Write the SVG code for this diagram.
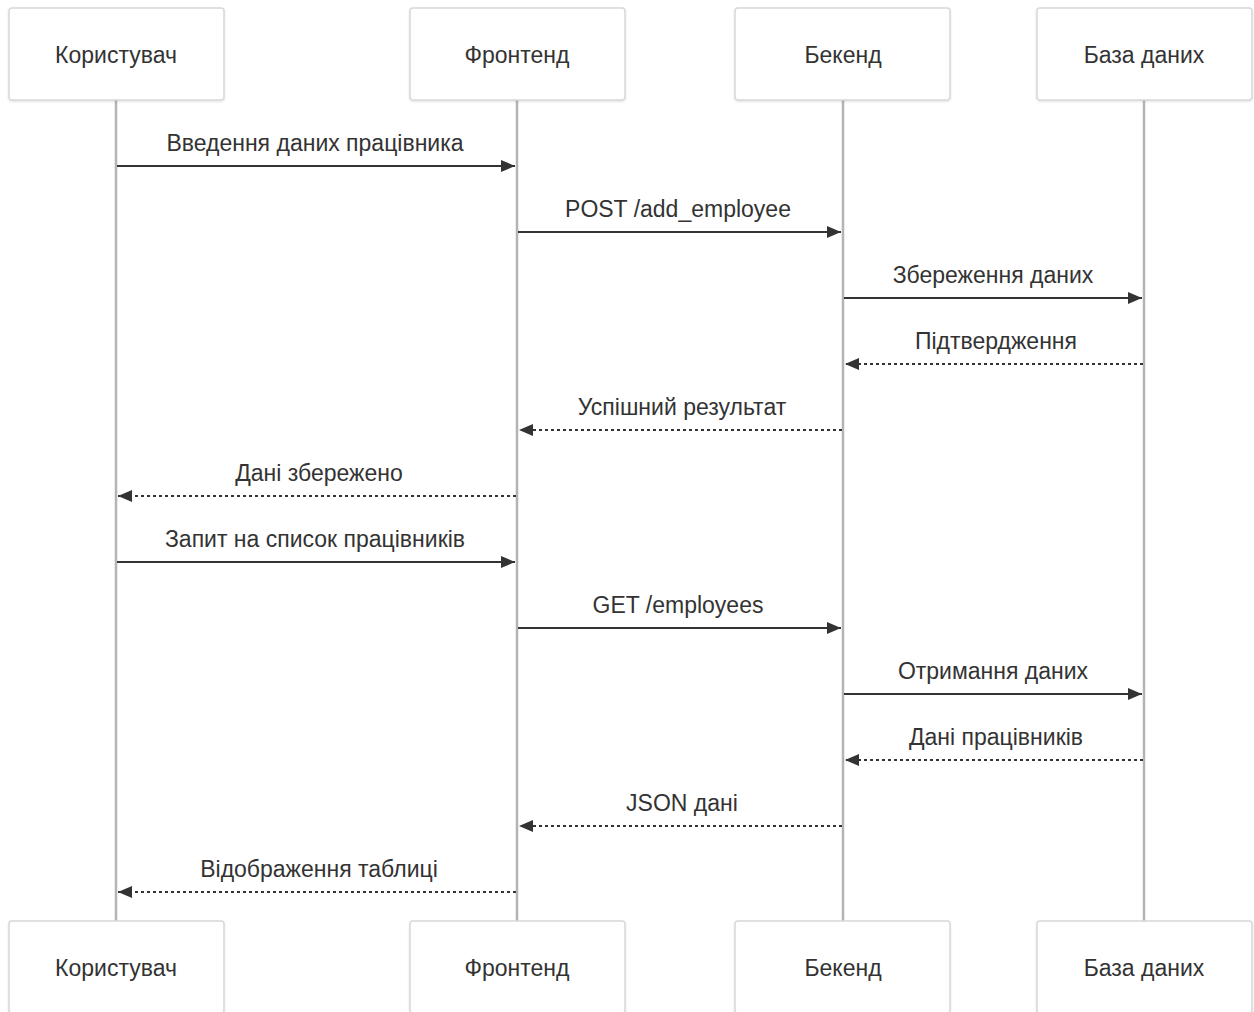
<svg xmlns="http://www.w3.org/2000/svg" width="1254" height="1012" viewBox="0 0 1254 1012">
<defs>
<style>
.actor{fill:#fff;stroke:#d8d8d8;stroke-width:1.5}
.atext{font-family:"Liberation Sans",Arial,sans-serif;font-size:23px;fill:#333;text-anchor:middle;dominant-baseline:central}
.life{stroke:#b4b4b4;stroke-width:2.5;fill:none}
.msg{stroke:#333;stroke-width:2;fill:none}
.dash{stroke-dasharray:3,3}
.mtext{font-family:"Liberation Sans",Arial,sans-serif;font-size:23px;fill:#333;text-anchor:middle}
</style>
<marker id="ah" viewBox="0 0 14 12" refX="14" refY="6" markerWidth="14" markerHeight="12" markerUnits="userSpaceOnUse" orient="auto">
<path d="M0,0 L14,6 L0,12 z" fill="#333"/>
</marker>
<filter id="sh" x="-5%" y="-5%" width="110%" height="115%">
<feDropShadow dx="0" dy="1" stdDeviation="1" flood-color="#000" flood-opacity="0.12"/>
</filter>
</defs>
<g id="lifelines">
<line class="life" x1="116" y1="100" x2="116" y2="921"/>
<line class="life" x1="517" y1="100" x2="517" y2="921"/>
<line class="life" x1="843" y1="100" x2="843" y2="921"/>
<line class="life" x1="1144" y1="100" x2="1144" y2="921"/>
</g>
<g id="actor-user-top"><rect class="actor" filter="url(#sh)" x="9" y="8" width="215" height="92" rx="3"/><text class="atext" x="116" y="55">Користувач</text></g>
<g id="actor-front-top"><rect class="actor" filter="url(#sh)" x="410" y="8" width="215" height="92" rx="3"/><text class="atext" x="517" y="55">Фронтенд</text></g>
<g id="actor-back-top"><rect class="actor" filter="url(#sh)" x="735" y="8" width="215" height="92" rx="3"/><text class="atext" x="843" y="55">Бекенд</text></g>
<g id="actor-db-top"><rect class="actor" filter="url(#sh)" x="1037" y="8" width="215" height="92" rx="3"/><text class="atext" x="1144" y="55">База даних</text></g>
<g id="actor-user-bottom"><rect class="actor" filter="url(#sh)" x="9" y="921" width="215" height="92" rx="3"/><text class="atext" x="116" y="968">Користувач</text></g>
<g id="actor-front-bottom"><rect class="actor" filter="url(#sh)" x="410" y="921" width="215" height="92" rx="3"/><text class="atext" x="517" y="968">Фронтенд</text></g>
<g id="actor-back-bottom"><rect class="actor" filter="url(#sh)" x="735" y="921" width="215" height="92" rx="3"/><text class="atext" x="843" y="968">Бекенд</text></g>
<g id="actor-db-bottom"><rect class="actor" filter="url(#sh)" x="1037" y="921" width="215" height="92" rx="3"/><text class="atext" x="1144" y="968">База даних</text></g>
<g id="messages">
<line class="msg" x1="117" y1="166" x2="515" y2="166" marker-end="url(#ah)"/>
<text class="mtext" x="315" y="151">Введення даних працівника</text>
<line class="msg" x1="518" y1="232" x2="841" y2="232" marker-end="url(#ah)"/>
<text class="mtext" x="678" y="217">POST /add_employee</text>
<line class="msg" x1="844" y1="298" x2="1142" y2="298" marker-end="url(#ah)"/>
<text class="mtext" x="993" y="283">Збереження даних</text>
<line class="msg dash" x1="1143" y1="364" x2="845" y2="364" marker-end="url(#ah)"/>
<text class="mtext" x="996" y="349">Підтвердження</text>
<line class="msg dash" x1="842" y1="430" x2="519" y2="430" marker-end="url(#ah)"/>
<text class="mtext" x="682" y="415">Успішний результат</text>
<line class="msg dash" x1="516" y1="496" x2="118" y2="496" marker-end="url(#ah)"/>
<text class="mtext" x="319" y="481">Дані збережено</text>
<line class="msg" x1="117" y1="562" x2="515" y2="562" marker-end="url(#ah)"/>
<text class="mtext" x="315" y="547">Запит на список працівників</text>
<line class="msg" x1="518" y1="628" x2="841" y2="628" marker-end="url(#ah)"/>
<text class="mtext" x="678" y="613">GET /employees</text>
<line class="msg" x1="844" y1="694" x2="1142" y2="694" marker-end="url(#ah)"/>
<text class="mtext" x="993" y="679">Отримання даних</text>
<line class="msg dash" x1="1143" y1="760" x2="845" y2="760" marker-end="url(#ah)"/>
<text class="mtext" x="996" y="745">Дані працівників</text>
<line class="msg dash" x1="842" y1="826" x2="519" y2="826" marker-end="url(#ah)"/>
<text class="mtext" x="682" y="811">JSON дані</text>
<line class="msg dash" x1="516" y1="892" x2="118" y2="892" marker-end="url(#ah)"/>
<text class="mtext" x="319" y="877">Відображення таблиці</text>
</g>
</svg>
